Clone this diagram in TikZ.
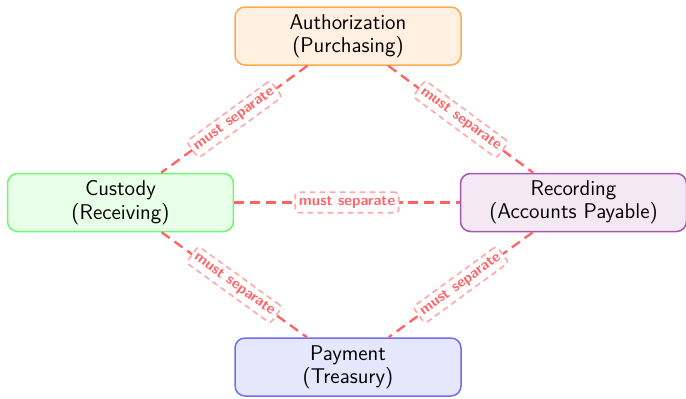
\documentclass[tikz,border=0pt]{standalone}
\renewcommand{\familydefault}{\sfdefault}
\begin{document}
\begin{tikzpicture}[x=0.6pt,y=-0.6pt,
  box/.style={draw, rounded corners=6pt, line width=0.9pt, minimum width=135.6pt, minimum height=34.8pt, align=center, font=\sffamily\fontsize{12.8}{14}\selectfont, text=black},
  sep/.style={draw=sepred, line width=1.4pt, dash pattern=on 6pt off 3.5pt},
  lbl/.style={sloped, fill=white, draw=seppink, line width=1pt, dash pattern=on 3.5pt off 2.5pt, rounded corners=2pt, inner xsep=2.2pt, inner ysep=2.6pt, font=\sffamily\bfseries\fontsize{9}{10}\selectfont, text=sepred}]
\definecolor{sepred}{RGB}{255,100,100}
\definecolor{seppink}{RGB}{255,170,170}
\useasboundingbox (0,0) rectangle (686,399);
\node[box, fill={rgb,255:red,255;green,240;blue,226}, draw={rgb,255:red,255;green,170;blue,80}] (auth) at (348,36) {Authorization\\(Purchasing)};
\node[box, fill={rgb,255:red,232;green,255;blue,232}, draw={rgb,255:red,110;green,250;blue,110}] (cust) at (120.5,202.5) {Custody\\(Receiving)};
\node[box, fill={rgb,255:red,244;green,232;blue,244}, draw={rgb,255:red,165;green,85;blue,175}] (rec) at (573.5,202.5) {Recording\\(Accounts Payable)};
\node[box, fill={rgb,255:red,230;green,230;blue,252}, draw={rgb,255:red,110;green,110;blue,245}] (pay) at (348,367) {Payment\\(Treasury)};
\draw[sep] (auth) -- node[lbl] {must separate} (cust);
\draw[sep] (auth) -- node[lbl] {must separate} (rec);
\draw[sep] (cust) -- node[lbl] {must separate} (rec);
\draw[sep] (cust) -- node[lbl] {must separate} (pay);
\draw[sep] (rec) -- node[lbl] {must separate} (pay);
\end{tikzpicture}
\end{document}
